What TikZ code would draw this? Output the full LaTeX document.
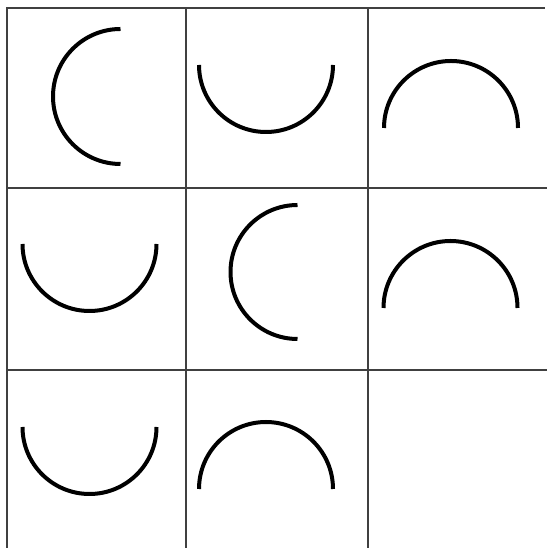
\documentclass[tikz,border=0pt]{standalone}
\begin{document}
\begin{tikzpicture}[x=1pt,y=1pt,
  gridline/.style={draw=black!75,line width=2.2pt},
  arcline/.style={draw=black,line width=4pt}]
\useasboundingbox (0,0) rectangle (547,548);
\fill[white] (0,0) rectangle (547,548);
% grid
\draw[gridline] (7,0) -- (7,540);
\draw[gridline] (186,0) -- (186,540);
\draw[gridline] (368,0) -- (368,540);
\draw[gridline] (6,540) -- (545,540);
\draw[gridline] (6,360) -- (547,360);
\draw[gridline] (6,178) -- (547,178);
% row 1
\draw[arcline] (120.5,451.5) ++(90:67.5) arc[start angle=90,end angle=270,radius=67.5];
\draw[arcline] (266,483) ++(180:67) arc[start angle=180,end angle=360,radius=67];
\draw[arcline] (451,420) ++(0:67) arc[start angle=0,end angle=180,radius=67];
% row 2
\draw[arcline] (89.5,304) ++(180:67) arc[start angle=180,end angle=360,radius=67];
\draw[arcline] (297.5,276) ++(90:67) arc[start angle=90,end angle=270,radius=67];
\draw[arcline] (450.5,240) ++(0:67) arc[start angle=0,end angle=180,radius=67];
% row 3
\draw[arcline] (89.5,121) ++(180:67) arc[start angle=180,end angle=360,radius=67];
\draw[arcline] (266,59) ++(0:67) arc[start angle=0,end angle=180,radius=67];
\end{tikzpicture}
\end{document}
